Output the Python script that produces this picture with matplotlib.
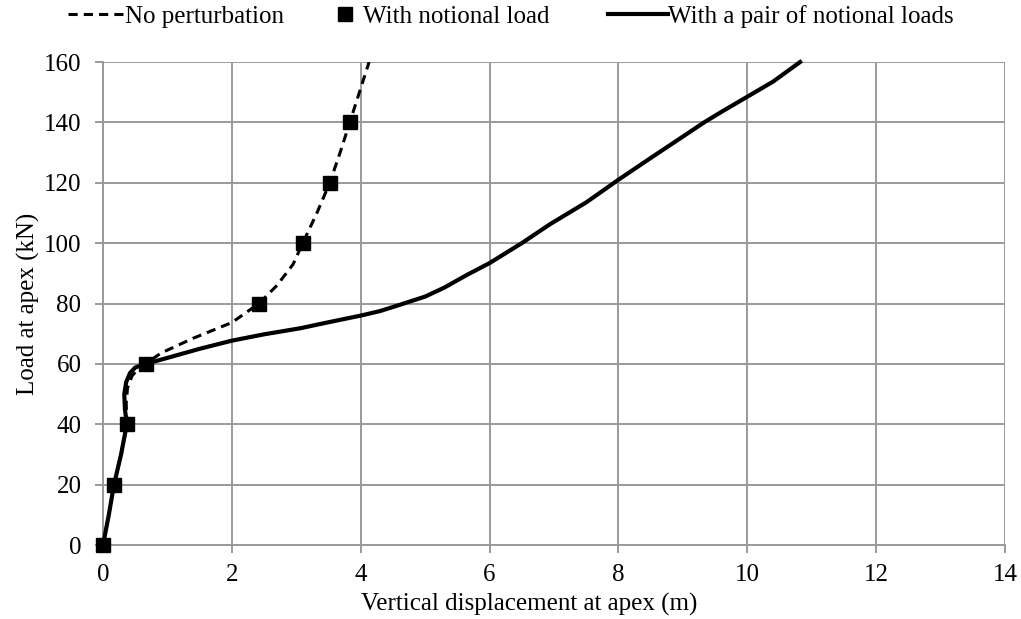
import matplotlib
matplotlib.use("Agg")
import matplotlib.pyplot as plt
from matplotlib.lines import Line2D

# curve: no perturbation (dashed)
no_pert_disp = [0.0, 0.09, 0.17, 0.28, 0.37, 0.36, 0.38, 0.45, 0.55, 0.66, 0.9, 1.4, 2.0, 2.42, 2.7, 2.95, 3.1, 3.32, 3.52, 3.68, 3.83, 3.98, 4.13]
no_pert_load = [0.0, 10, 20, 30, 40, 47, 52, 56, 58.5, 60, 63.6, 68.5, 73.7, 80, 86, 93, 100, 110, 120, 130, 140, 150, 160]

# markers: with notional load
notional_disp = [0.0, 0.17, 0.37, 0.66, 2.42, 3.1, 3.52, 3.83]
notional_load = [0, 20, 40, 60, 80, 100, 120, 140]

# pair of notional loads (solid)
pair_disp = [0.0, 0.09, 0.17, 0.28, 0.37, 0.34, 0.33, 0.36, 0.42, 0.5, 0.66, 1.0, 1.5, 2.0, 2.5, 3.06, 3.5, 4.0, 4.3, 4.61, 5.0, 5.3, 5.65, 6.0, 6.5, 6.94, 7.5, 8.0, 8.5, 9.0, 9.33, 9.6, 9.8, 10.0, 10.4, 10.82]
pair_load = [0.0, 10, 20, 30, 40, 45, 50, 54, 57, 58.8, 60, 62, 65, 67.7, 69.8, 71.8, 73.8, 76, 77.5, 79.6, 82.3, 85.3, 89.5, 93.4, 100, 106.3, 113.5, 121, 128.2, 135.3, 140, 143.5, 146, 148.5, 153.5, 160]

xticks = [0, 2, 4, 6, 8, 10, 12, 14]
yticks = [0, 20, 40, 60, 80, 100, 120, 140, 160]

plt.rcParams['font.family'] = ['Liberation Serif', 'DejaVu Serif']
FS = 18
GRID = "#9a9a9a"

fig = plt.figure(figsize=(10.21, 6.19), dpi=100)
ax = fig.add_axes([0.1009, 0.1195, 0.8834, 0.7803])

dash = (0, (3, 2))
ax.plot(no_pert_disp, no_pert_load, color="black", linestyle=dash, linewidth=2.2, zorder=3)
ax.plot(notional_disp, notional_load, linestyle="none", marker="s", markersize=10, color="black", zorder=4, clip_on=False)
ax.plot(pair_disp, pair_load, color="black", linewidth=3, zorder=3, clip_on=False)

ax.set_xlim(0, 14)
ax.set_ylim(0, 160)
ax.set_xticks(xticks)
ax.set_yticks(yticks)
ax.grid(True, color=GRID, linewidth=1.4)
ax.set_axisbelow(True)
for s in ax.spines.values():
    s.set_color(GRID)
    s.set_linewidth(1.4)
ax.spines['top'].set_visible(False)
ax.spines['right'].set_visible(False)
ax.tick_params(axis="both", colors=GRID, labelcolor="black", labelsize=FS, length=5.5, width=1.4)
ax.tick_params(axis="y", pad=10)
ax.tick_params(axis="x", pad=8)

ax.set_xlabel("Vertical displacement at apex (m)", fontsize=FS)
ax.xaxis.set_label_coords(0.472, -0.10)
ax.set_ylabel("Load at apex (kN)", fontsize=FS, labelpad=3)

# legend: three separate pieces so each sits like the reference
leg_items = [
    (Line2D([0], [0], color="black", linestyle=dash, linewidth=2.2), "No perturbation", 2.3, 0.0, 0.0666),
    (Line2D([0], [0], color="black", linestyle="none", marker="s", markersize=10), "With notional load", 1.0, 0.2, 0.326),
    (Line2D([0], [0], color="black", linewidth=3), "With a pair of notional loads", 2.4, 0.0, 0.5955),
]
for h, lab, hl, tp, x0 in leg_items:
    lg = fig.legend([h], [lab], loc="center left", bbox_to_anchor=(x0, 0.973), frameon=False,
                    fontsize=FS, handlelength=hl, handletextpad=tp, borderpad=0, borderaxespad=0)

fig.savefig("out.png", dpi=100)
